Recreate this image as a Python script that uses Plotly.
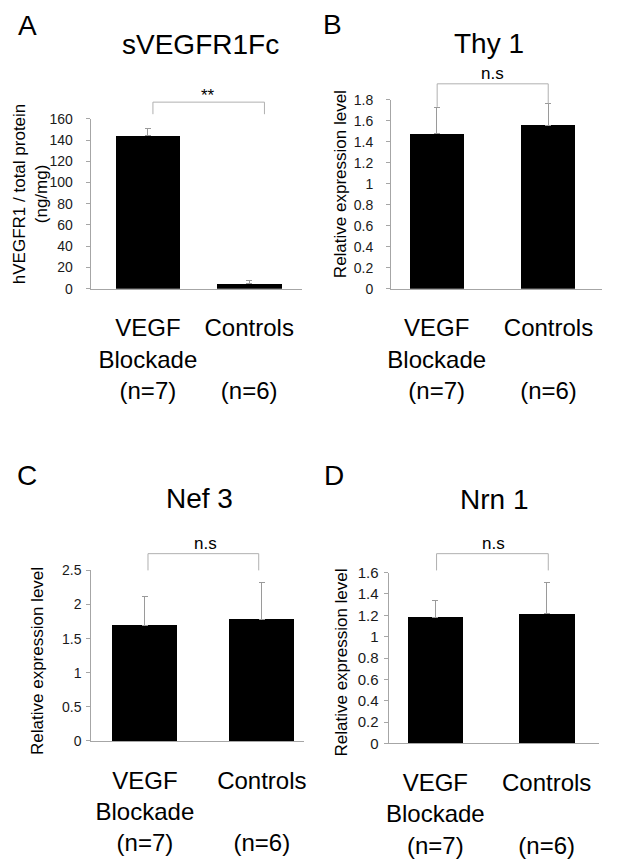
import plotly.graph_objects as go

# ---------------- data ----------------
groups = ["VEGF<br>Blockade<br>(n=7)", "Controls<br> <br>(n=6)"]

a_title = "sVEGFR1Fc"
a_means = [144, 5]
a_err = [7, 2.4]

b_title = "Thy 1"
b_means = [1.475, 1.56]
b_err = [0.255, 0.205]

c_title = "Nef 3"
c_means = [1.695, 1.78]
c_err = [0.415, 0.54]

d_title = "Nrn 1"
d_means = [1.184, 1.217]
d_err = [0.156, 0.289]

panel_letters = ["A", "B", "C", "D"]
sig_labels = ["**", "n.s", "n.s", "n.s"]
y_titles = ["hVEGFR1 / total protein<br>(ng/mg)", "Relative expression level",
            "Relative expression level", "Relative expression level"]

# ---------------- layout helpers ----------------
W, H = 624, 860
FONT = "Liberation Sans, Arial, sans-serif"
AXC = "#a6a6a6"


def px(x):
    return x / W


def py(y):
    return 1 - y / H


panels = [
    dict(means=a_means, err=a_err, title=a_title, xd=(87.7, 301.7), yd=(285.3, 112),
         xr=(-0.564, 1.524), yr=(0, 160), dtick=20, bw=0.634, tfs=14, stand=10,
         title_pos=(198.3, 36), letter_pos=(23.3, 17), ytitle_pos=(26.2, 189),
         sig_pos=(206.7, 88), br=(0.294, 0.821, 1.098, 1.027, 1.027)),
    dict(means=b_means, err=b_err, title=b_title, xd=(391.5, 604.7), yd=(285.3, 92.7),
         xr=(-0.408, 1.478), yr=(0, 1.8), dtick=0.2, bw=0.485, tfs=14, stand=10,
         title_pos=(491, 35), letter_pos=(332, 16), ytitle_pos=(340.5, 179),
         sig_pos=(493.7, 66), br=(0.2185, 0.7453, 1.085, 0.963, 0.981)),
    dict(means=c_means, err=c_err, title=c_title, xd=(88.3, 303), yd=(746.7, 572.7),
         xr=(-0.458, 1.357), yr=(0, 2.5), dtick=0.5, bw=0.561, tfs=14, stand=2,
         title_pos=(197.5, 499), letter_pos=(23.3, 476), ytitle_pos=(34.5, 665),
         sig_pos=(203.8, 545), br=(0.267, 0.7886, 1.098, 1.0, 1.0)),
    dict(means=d_means, err=d_err, title=d_title, xd=(389, 602), yd=(749.3, 575),
         xr=(-0.419, 1.472), yr=(0, 1.6), dtick=0.2, bw=0.499, tfs=15, stand=2,
         title_pos=(496, 500), letter_pos=(333.7, 476), ytitle_pos=(341, 666.5),
         sig_pos=(495.3, 545), br=(0.2275, 0.758, 1.111, 1.013, 1.013)),
]

fig = go.Figure()
annotations = []
shapes = []

for i, p in enumerate(panels):
    n = "" if i == 0 else str(i + 1)
    xa, ya = "x" + n, "y" + n
    fig.add_trace(go.Bar(
        x=groups, y=p["means"], xaxis=xa, yaxis=ya, width=p["bw"],
        marker=dict(color="black", line=dict(width=0)),
        error_y=dict(type="data", array=p["err"], arrayminus=[0, 0], symmetric=False,
                     color="#9a9a9a", thickness=1, width=3),
        showlegend=False, hoverinfo="skip",
    ))
    fig.layout["xaxis" + n] = dict(
        domain=[px(p["xd"][0]), px(p["xd"][1])], anchor=ya, range=list(p["xr"]),
        type="category", showline=True, linecolor=AXC, linewidth=1, ticks="",
        showgrid=False, zeroline=False, fixedrange=True,
        tickfont=dict(family=FONT, size=24, color="black"), ticklabelstandoff=18,
    )
    fig.layout["yaxis" + n] = dict(
        domain=[py(p["yd"][0]), py(p["yd"][1])], anchor=xa, range=list(p["yr"]),
        dtick=p["dtick"], tick0=0, showline=True, linecolor=AXC, linewidth=1,
        ticks="outside", ticklen=4, tickcolor=AXC, tickwidth=1,
        showgrid=False, zeroline=False, fixedrange=True,
        tickfont=dict(family=FONT, size=p["tfs"], color="#1a1a1a"),
        ticklabelstandoff=p["stand"],
    )
    annotations.append(dict(text=p["title"], x=px(p["title_pos"][0]), y=py(p["title_pos"][1]),
                            xref="paper", yref="paper", showarrow=False, xanchor="center",
                            yanchor="middle", font=dict(family=FONT, size=28, color="black")))
    annotations.append(dict(text=panel_letters[i], x=px(p["letter_pos"][0]), y=py(p["letter_pos"][1]),
                            xref="paper", yref="paper", showarrow=False, xanchor="center",
                            yanchor="middle", font=dict(family=FONT, size=28, color="black")))
    annotations.append(dict(text=y_titles[i], x=px(p["ytitle_pos"][0]), y=py(p["ytitle_pos"][1]),
                            xref="paper", yref="paper", showarrow=False, xanchor="center",
                            yanchor="middle", textangle=-90,
                            font=dict(family=FONT, size=17, color="black")))
    annotations.append(dict(text=sig_labels[i], x=px(p["sig_pos"][0]), y=py(p["sig_pos"][1]),
                            xref="paper", yref="paper", showarrow=False, xanchor="center",
                            yanchor="middle", font=dict(family=FONT, size=17, color="black")))
    x0, x1, ytop, yl, yr_ = p["br"]
    shapes.append(dict(type="path",
                       path=f"M {x0},{yl} L {x0},{ytop} L {x1},{ytop} L {x1},{yr_}",
                       xref=xa + " domain", yref=ya + " domain",
                       line=dict(color="#b0b0b0", width=1)))

fig.update_layout(
    width=W, height=H, autosize=False, margin=dict(l=0, r=0, t=0, b=0),
    paper_bgcolor="white", plot_bgcolor="white",
    annotations=annotations, shapes=shapes, bargap=0,
    font=dict(family=FONT),
)

post = (
    "document.documentElement.style.margin='0';"
    "document.documentElement.style.overflow='hidden';"
    "document.body.style.margin='0';"
    "document.body.style.padding='0';"
    "document.body.style.overflow='hidden';"
)

fig.write_html("out.html", config={"displayModeBar": False, "responsive": False},
               post_script=post)
